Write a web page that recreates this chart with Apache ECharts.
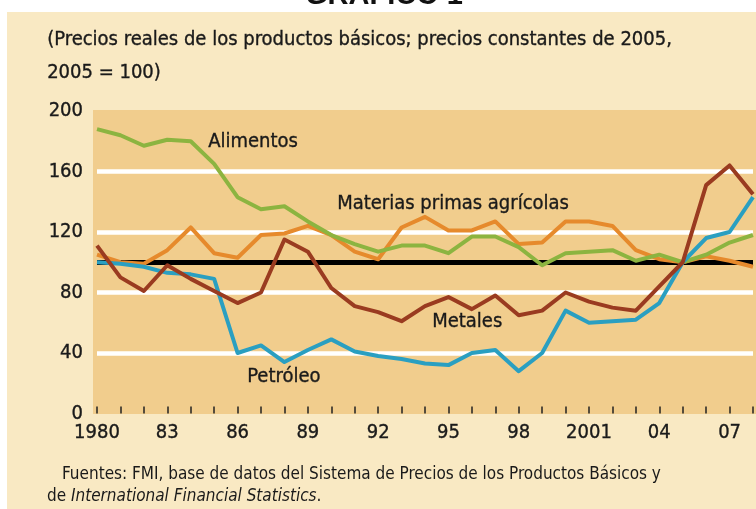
<!DOCTYPE html>
<html>
<head>
<meta charset="utf-8">
<script src="https://cdn.jsdelivr.net/npm/echarts@6/dist/echarts.min.js"></script>
<style>
  html, body { margin: 0; padding: 0; background: #ffffff; }
  #chart { width: 756px; height: 509px; }
</style>
</head>
<body>
<div id="chart"></div>
<script>
// años 1980-2008, índice 2005 = 100
const years = [
  "1980", "1981", "1982", "1983", "1984", "1985", "1986", "1987", "1988", "1989",
  "1990", "1991", "1992", "1993", "1994", "1995", "1996", "1997", "1998", "1999",
  "2000", "2001", "2002", "2003", "2004", "2005", "2006", "2007", "2008"
];
const yearLabels = {
  "1980": "1980", "1983": "83", "1986": "86", "1989": "89", "1992": "92",
  "1995": "95", "1998": "98", "2001": "2001", "2004": "04", "2007": "07"
};
const alimentos = [188, 184, 177, 181, 180, 165, 143, 135, 137, 127, 118, 112, 107, 111, 111, 106, 117, 117, 110, 98, 106, 107, 108, 101, 105, 100, 105, 113, 118];
const materiasPrimas = [105, 100, 99, 108, 123, 106, 103, 118, 119, 124, 118, 107, 102, 123, 130, 121, 121, 127, 112, 113, 127, 127, 124, 108, 102, 100, 104, 101, 97];
const metales = [111, 90, 81, 98, 89, 81, 73, 80, 115, 107, 83, 71, 67, 61, 71, 77, 69, 78, 65, 68, 80, 74, 70, 68, 84, 100, 151, 164, 145];
const petroleo = [100, 99, 97, 93, 92, 89, 40, 45, 34, 42, 49, 41, 38, 36, 33, 32, 40, 42, 28, 40, 68, 60, 61, 62, 73, 100, 116, 120, 143];
const yTicks = [0, 40, 80, 120, 160, 200];

const FONT = "'Liberation Sans Narrow', 'DejaVu Sans Condensed', sans-serif";
const INK = "#1a1a1a";
const chart = echarts.init(document.getElementById("chart"), null, { renderer: "canvas" });

function line(name, data, color, z) {
  return {
    name: name,
    type: "line",
    data: data,
    z: z,
    symbol: "none",
    lineStyle: { color: color, width: 4, join: "round" },
    animation: false
  };
}

// etiquetas de texto (un poco más gruesas con un trazo fino)
function label(text, left, top, size) {
  return {
    type: "text", left: left, top: top, z: 20,
    style: { text: text, font: size + "px " + FONT, fill: INK, stroke: INK, lineWidth: 0.35 }
  };
}

const option = {
  backgroundColor: "#ffffff",
  animation: false,
  grid: { left: 97, right: -3, top: 111, bottom: 95.5, containLabel: false },
  xAxis: {
    type: "category",
    data: years,
    boundaryGap: false,
    axisLine: { show: false },
    axisTick: { show: true, inside: true, length: 7, interval: 0, lineStyle: { color: "#222", width: 1.5 } },
    axisLabel: {
      interval: 0,
      margin: 9,
      fontFamily: FONT,
      fontSize: 20,
      color: INK,
      textBorderColor: INK,
      textBorderWidth: 0.35,
      formatter: function (v) { return yearLabels[v] || ""; }
    },
    splitLine: { show: false }
  },
  yAxis: {
    type: "value",
    min: yTicks[0],
    max: yTicks[yTicks.length - 1],
    interval: 40,
    axisLine: { show: false },
    axisTick: { show: false },
    axisLabel: { margin: 14, fontFamily: FONT, fontSize: 20, color: INK, textBorderColor: INK, textBorderWidth: 0.35 },
    splitLine: { show: true, showMinLine: false, showMaxLine: false, lineStyle: { color: "#ffffff", width: 4.5 } }
  },
  graphic: [
    { type: "rect", z: -10, shape: { x: 7, y: 12, width: 749, height: 497 }, style: { fill: "#f9e9c3" } },
    { type: "rect", z: -9, shape: { x: 93, y: 110, width: 663, height: 304 }, style: { fill: "#f1cd8d" } },
    { type: "text", left: 305, top: -19, z: -11, style: { text: "GRÁFICO 1", font: "bold 29px 'Liberation Sans', sans-serif", fill: "#111" } },
    label("(Precios reales de los productos básicos; precios constantes de 2005,", 47, 30, 20),
    label("2005 = 100)", 47, 63, 20),
    label("Alimentos", 208, 132, 20),
    label("Materias primas agrícolas", 337, 194, 20),
    label("Metales", 432, 312, 20),
    label("Petróleo", 247, 367, 20),
    {
      type: "text", left: 62, top: 466,
      style: { text: "Fuentes: FMI, base de datos del Sistema de Precios de los Productos Básicos y", font: "17px " + FONT, fill: INK }
    },
    {
      type: "text", left: 47, top: 488,
      style: {
        text: "de {i|International Financial Statistics}.",
        font: "17px " + FONT, fill: INK,
        rich: { i: { fontStyle: "italic", fontFamily: FONT, fontSize: 17, fill: INK } }
      }
    }
  ],
  series: [
    Object.assign(line("Materias primas agrícolas", materiasPrimas, "#e68a2c", 3), {
      markLine: {
        silent: true,
        symbol: "none",
        label: { show: false },
        lineStyle: { color: "#000000", width: 5, type: "solid" },
        data: [{ yAxis: 100 }],
        z: 1
      }
    }),
    line("Alimentos", alimentos, "#8cb440", 4),
    line("Petróleo", petroleo, "#2a9fc1", 5),
    line("Metales", metales, "#9a3b20", 6)
  ]
};

chart.setOption(option);
</script>
</body>
</html>
